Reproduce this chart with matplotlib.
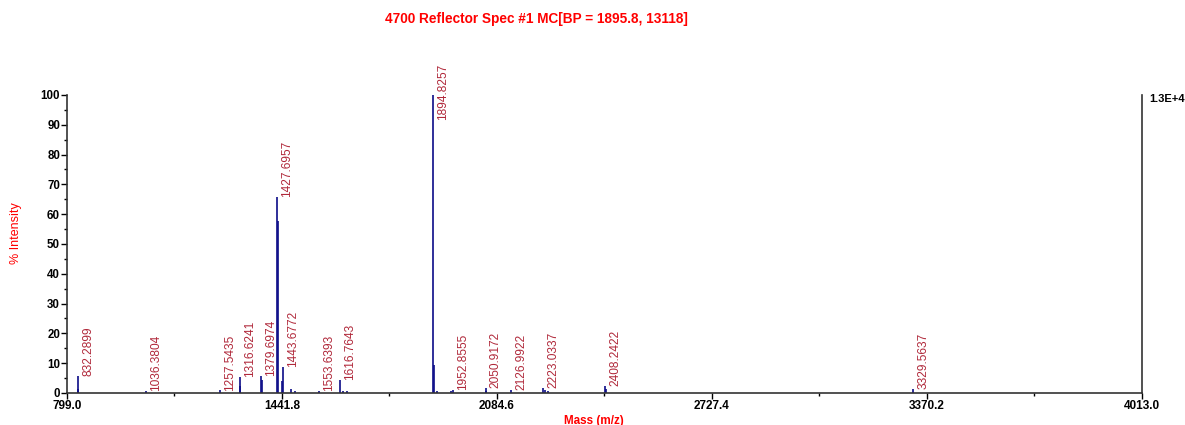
import matplotlib.pyplot as plt
import numpy as np

plt.rcParams['font.family'] = ['Liberation Sans', 'DejaVu Sans']

# Peak list (m/z, % intensity)
peak_mz = [832.29, 833.3, 1036.38, 1257.54, 1316.62, 1317.6, 1379.70, 1380.7,
           1427.70, 1428.7, 1443.68, 1442.7, 1469.0, 1482.0, 1553.64,
           1616.76, 1625.0, 1637.0, 1894.83, 1895.8, 1905.0, 1946.0, 1952.86,
           2050.92, 2051.9, 2126.99, 2223.03, 2227.0, 2236.0, 2408.24, 2409.2,
           3329.56]
peak_int = [5.8, 1.5, 0.8, 1.0, 5.5, 2.5, 5.7, 4.5,
            65.9, 57.7, 8.7, 4.0, 1.5, 0.6, 0.6,
            4.5, 0.6, 0.6, 100.0, 9.4, 0.6, 0.6, 1.0,
            1.7, 0.6, 1.0, 1.8, 1.0, 0.6, 2.2, 1.2,
            1.5]

# Annotated peaks
label_mz = [832.2899, 1036.3804, 1257.5435, 1316.6241, 1379.6974, 1427.6957,
            1443.6772, 1553.6393, 1616.7643, 1894.8257, 1952.8555, 2050.9172,
            2126.9922, 2223.0337, 2408.2422, 3329.5637]
label_int = [5.8, 0.8, 0.6, 5.5, 5.7, 65.9, 8.7, 0.8, 4.5, 100.0, 1.0, 1.7,
             1.0, 1.8, 2.2, 1.5]

x_ticks = [799.0, 1441.8, 2084.6, 2727.4, 3370.2, 4013.0]
title = '4700 Reflector Spec #1 MC[BP = 1895.8, 13118]'

fig = plt.figure(figsize=(11.85, 4.25), dpi=100)
ax = fig.add_axes([0.0565, 0.0753, 0.9072, 0.7012])

ax.vlines(peak_mz, 0, peak_int, color='#0c0c88', linewidth=1.2)

for m, h in zip(label_mz, label_int):
    y = min(h, 91.5)
    ax.text(m + 30, y, f'{m:.4f}', rotation=90, ha='center', va='bottom',
            fontsize=8.6, color='#b0283a')

ax.set_xlim(799.0, 4013.0)
ax.set_ylim(0, 100)
ax.set_xticks(x_ticks)
ax.set_xticklabels([f'{t:.1f}' for t in x_ticks], fontweight='bold', fontsize=8.5)
ax.set_xticks([(a + b) / 2 for a, b in zip(x_ticks[:-1], x_ticks[1:])], minor=True)
ax.set_yticks(np.arange(0, 101, 10))
ax.set_yticks(np.arange(5, 100, 10), minor=True)
ax.set_yticklabels([str(t) for t in range(0, 101, 10)], fontweight='bold', fontsize=8.3)
ax.tick_params(axis='both', which='major', length=4, width=1, pad=1)
ax.tick_params(axis='both', which='minor', length=2, width=1)

ax.spines['top'].set_visible(False)
for s in ['left', 'bottom', 'right']:
    ax.spines[s].set_linewidth(1.2)
    ax.spines[s].set_color('#333333')

ax.set_xlabel('Mass (m/z)', color='red', fontweight='bold', fontsize=8.4, labelpad=3)
ax.xaxis.set_label_coords(0.49, -0.075)
ax.set_ylabel('% Intensity', color='red', fontsize=9)
ax.yaxis.set_label_coords(-0.042, 0.537)
ax.text(1.007, 0.985, '1.3E+4', transform=ax.transAxes, fontsize=8,
        fontweight='bold', ha='left', va='center')

fig.text(0.453, 0.955, title, color='red', fontweight='bold', fontsize=9.8,
         ha='center', va='center')

fig.savefig('out.png', dpi=100)
